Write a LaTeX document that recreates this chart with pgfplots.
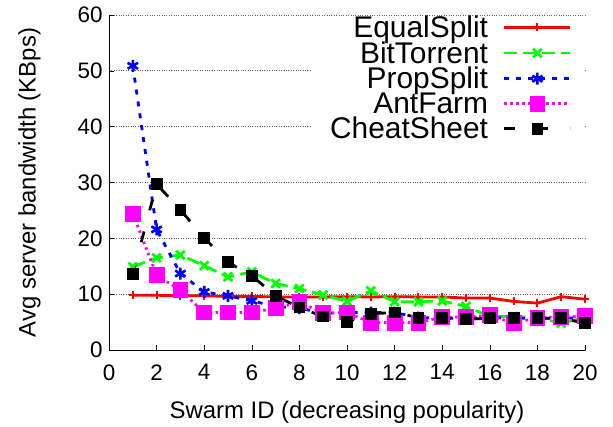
\documentclass[border=0pt]{standalone}
\usepackage{pgfplots}
\pgfplotsset{compat=1.18}
\usepackage{fontspec}
\setmainfont{Liberation Sans}
\usetikzlibrary{plotmarks}
\definecolor{cGreen}{RGB}{0,255,0}
\definecolor{cMag}{RGB}{255,0,255}
\begin{document}
\begin{tikzpicture}[x=1bp,y=1bp]
\path (0,0) rectangle (613,425);
\begin{axis}[
  at={(109bp,75bp)}, anchor=south west,
  scale only axis, width=476bp, height=335bp,
  xmin=0, xmax=20, ymin=0, ymax=60,
  axis lines=left, axis line style={-, line width=0.9bp},
  xtick={0,2,...,20}, ytick={0,10,...,60},
  tick align=inside, major tick length=5bp,
  tick style={line width=0.6bp, black},
  ymajorgrids, grid style={dotted, line width=0.7bp, gray!80!black},
  /pgf/number format/assume math mode=true,
  tick label style={font=\fontsize{22.5}{25}\selectfont},
  xticklabel style={yshift=-11bp},
  yticklabel style={xshift=-3bp},
  label style={font=\fontsize{24}{28}\selectfont},
  xlabel={Swarm ID (decreasing popularity)},
  ylabel={Avg server bandwidth (KBps)},
  xlabel style={yshift=-14bp},
  ylabel style={yshift=30bp},
  legend cell align=right,
  legend plot pos=right,
  legend style={draw=none, fill=white, at={(rel axis cs:1.0,0.995)}, anchor=north east,
    font=\fontsize{30}{32}\selectfont, row sep=-1.5bp, column sep=13bp, inner xsep=13bp, inner ysep=-3bp},
  legend image code/.code={\draw[mark repeat=2,mark phase=2] plot coordinates {(0bp,0bp)(33bp,0bp)(66bp,0bp)};},
]
\addplot[red, line width=2.8bp, mark=+, mark size=4bp, mark options={solid, line width=2bp}] coordinates {
(1,9.8)(2,9.8)(3,9.7)(4,9.7)(5,9.6)(6,9.6)(7,9.5)(8,9.5)(9,9.5)(10,9.55)
(11,9.5)(12,9.55)(13,9.5)(14,9.5)(15,9.3)(16,9.3)(17,8.7)(18,8.4)(19,9.55)(20,9.1)};
\addlegendentry{EqualSplit}
\addplot[cGreen, line width=2.8bp, dash pattern=on 13bp off 6bp, mark=x, mark size=6bp, mark options={solid, line width=2.8bp}] coordinates {
(1,14.9)(2,16.5)(3,17.0)(4,15.1)(5,13.1)(6,14.0)(7,11.9)(8,11.0)(9,9.85)(10,8.7)
(11,10.6)(12,8.65)(13,8.65)(14,8.8)(15,7.8)(16,6.0)(17,6.0)(18,5.8)(19,4.8)(20,5.8)};
\addlegendentry{BitTorrent}
\addplot[blue, line width=2.8bp, dash pattern=on 5bp off 7bp, mark=asterisk, mark size=6bp, mark options={solid, line width=2.6bp}] coordinates {
(1,50.9)(2,21.6)(3,13.7)(4,10.4)(5,9.7)(6,8.8)(7,7.8)(8,7.5)(9,6.6)(10,6.7)
(11,6.7)(12,6.7)(13,5.8)(14,5.7)(15,5.7)(16,5.8)(17,5.7)(18,5.7)(19,5.7)(20,5.8)};
\addlegendentry{PropSplit}
\addplot[cMag, line width=2.8bp, dash pattern=on 2.5bp off 3.5bp, mark=square*, mark size=6.5bp, mark options={solid}] coordinates {
(1,24.4)(2,13.4)(3,10.7)(4,6.7)(5,6.7)(6,6.7)(7,7.5)(8,8.6)(9,6.6)(10,6.7)
(11,4.9)(12,4.9)(13,4.9)(14,5.9)(15,5.9)(16,6.2)(17,4.8)(18,5.8)(19,5.9)(20,6.1)};
\addlegendentry{AntFarm}
\addplot[black, line width=2.8bp, dash pattern=on 11bp off 22bp, mark=square*, mark size=4.5bp, mark options={solid}] coordinates {
(1,13.6)(2,29.7)(3,25.1)(4,20.1)(5,15.7)(6,13.3)(7,9.7)(8,7.6)(9,6.0)(10,5.0)
(11,6.5)(12,6.7)(13,5.8)(14,5.7)(15,5.5)(16,5.7)(17,5.7)(18,5.7)(19,5.7)(20,4.8)};
\addlegendentry{\hspace*{4bp}CheatSheet}
\end{axis}
\end{tikzpicture}
\end{document}
